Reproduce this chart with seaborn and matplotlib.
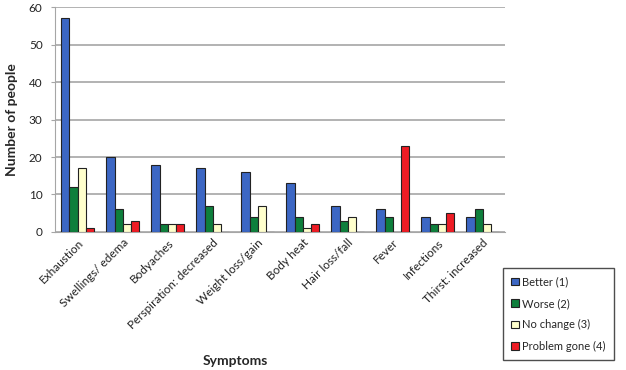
import pandas as pd
import matplotlib.pyplot as plt
import seaborn as sns

# Chart data
symptoms = ['Exhaustion', 'Swellings/ edema', 'Bodyaches', 'Perspiration: decreased',
            'Weight loss/gain', 'Body heat', 'Hair loss/fall', 'Fever', 'Infections',
            'Thirst: increased']
better = [57, 20, 18, 17, 16, 13, 7, 6, 4, 4]
worse = [12, 6, 2, 7, 4, 4, 3, 4, 2, 6]
no_change = [17, 2, 2, 2, 7, 1, 4, 0, 2, 2]
problem_gone = [1, 3, 2, 0, 0, 2, 0, 23, 5, 0]
series_names = ['Better (1)', 'Worse (2)', 'No change (3)', 'Problem gone (4)']
colors = ['#3C67C4', '#0E7F3C', '#FFFFCC', '#EE1C25']

# Long format for seaborn
rows = []
for name, vals in zip(series_names, [better, worse, no_change, problem_gone]):
    for s, v in zip(symptoms, vals):
        rows.append({'Symptom': s, 'Response': name, 'Count': v})
df = pd.DataFrame(rows)

sns.set_style('white')
plt.rcParams['font.family'] = ['Lato', 'DejaVu Sans']

fig = plt.figure(figsize=(6.26, 3.70), dpi=100)
ax = fig.add_axes([0.088, 0.373, 0.719, 0.608])

sns.barplot(data=df, x='Symptom', y='Count', hue='Response', order=symptoms,
            hue_order=series_names, palette=colors, width=0.72,
            edgecolor='#222222', linewidth=0.8, saturation=1, ax=ax, zorder=3)

ax.set_ylim(0, 60)
ax.set_yticks(range(0, 61, 10))
ax.set_xlim(-0.5, len(symptoms) - 0.5)
ax.yaxis.grid(True, color='#A6A6A6', linewidth=1.2, zorder=0)
ax.set_axisbelow(True)
for side in ['top', 'right']:
    ax.spines[side].set_visible(False)
ax.spines['left'].set_color('#A6A6A6')
ax.spines['bottom'].set_color('#A6A6A6')
ax.tick_params(axis='y', labelsize=8.5, colors='#222222', length=3, color='#A6A6A6',
               left=True, pad=6)
ax.tick_params(axis='x', labelsize=8.5, colors='#222222', length=0)
plt.setp(ax.get_xticklabels(), rotation=45, ha='right', rotation_mode='anchor')

ax.set_ylabel('Number of people', fontsize=10, fontweight='bold', labelpad=8)
ax.set_xlabel('Symptoms', fontsize=10, fontweight='bold')
ax.xaxis.set_label_coords(0.40, -0.545)

leg = ax.legend(loc='upper left', bbox_to_anchor=(0.995, -0.16), frameon=True,
                fontsize=8, handlelength=0.7, handleheight=0.7, handletextpad=0.3,
                labelspacing=0.95, borderpad=0.75, borderaxespad=0, fancybox=False)
leg.get_frame().set_edgecolor('#222222')
leg.get_frame().set_linewidth(1.0)

fig.savefig('out.png', dpi=100)
plt.close()
